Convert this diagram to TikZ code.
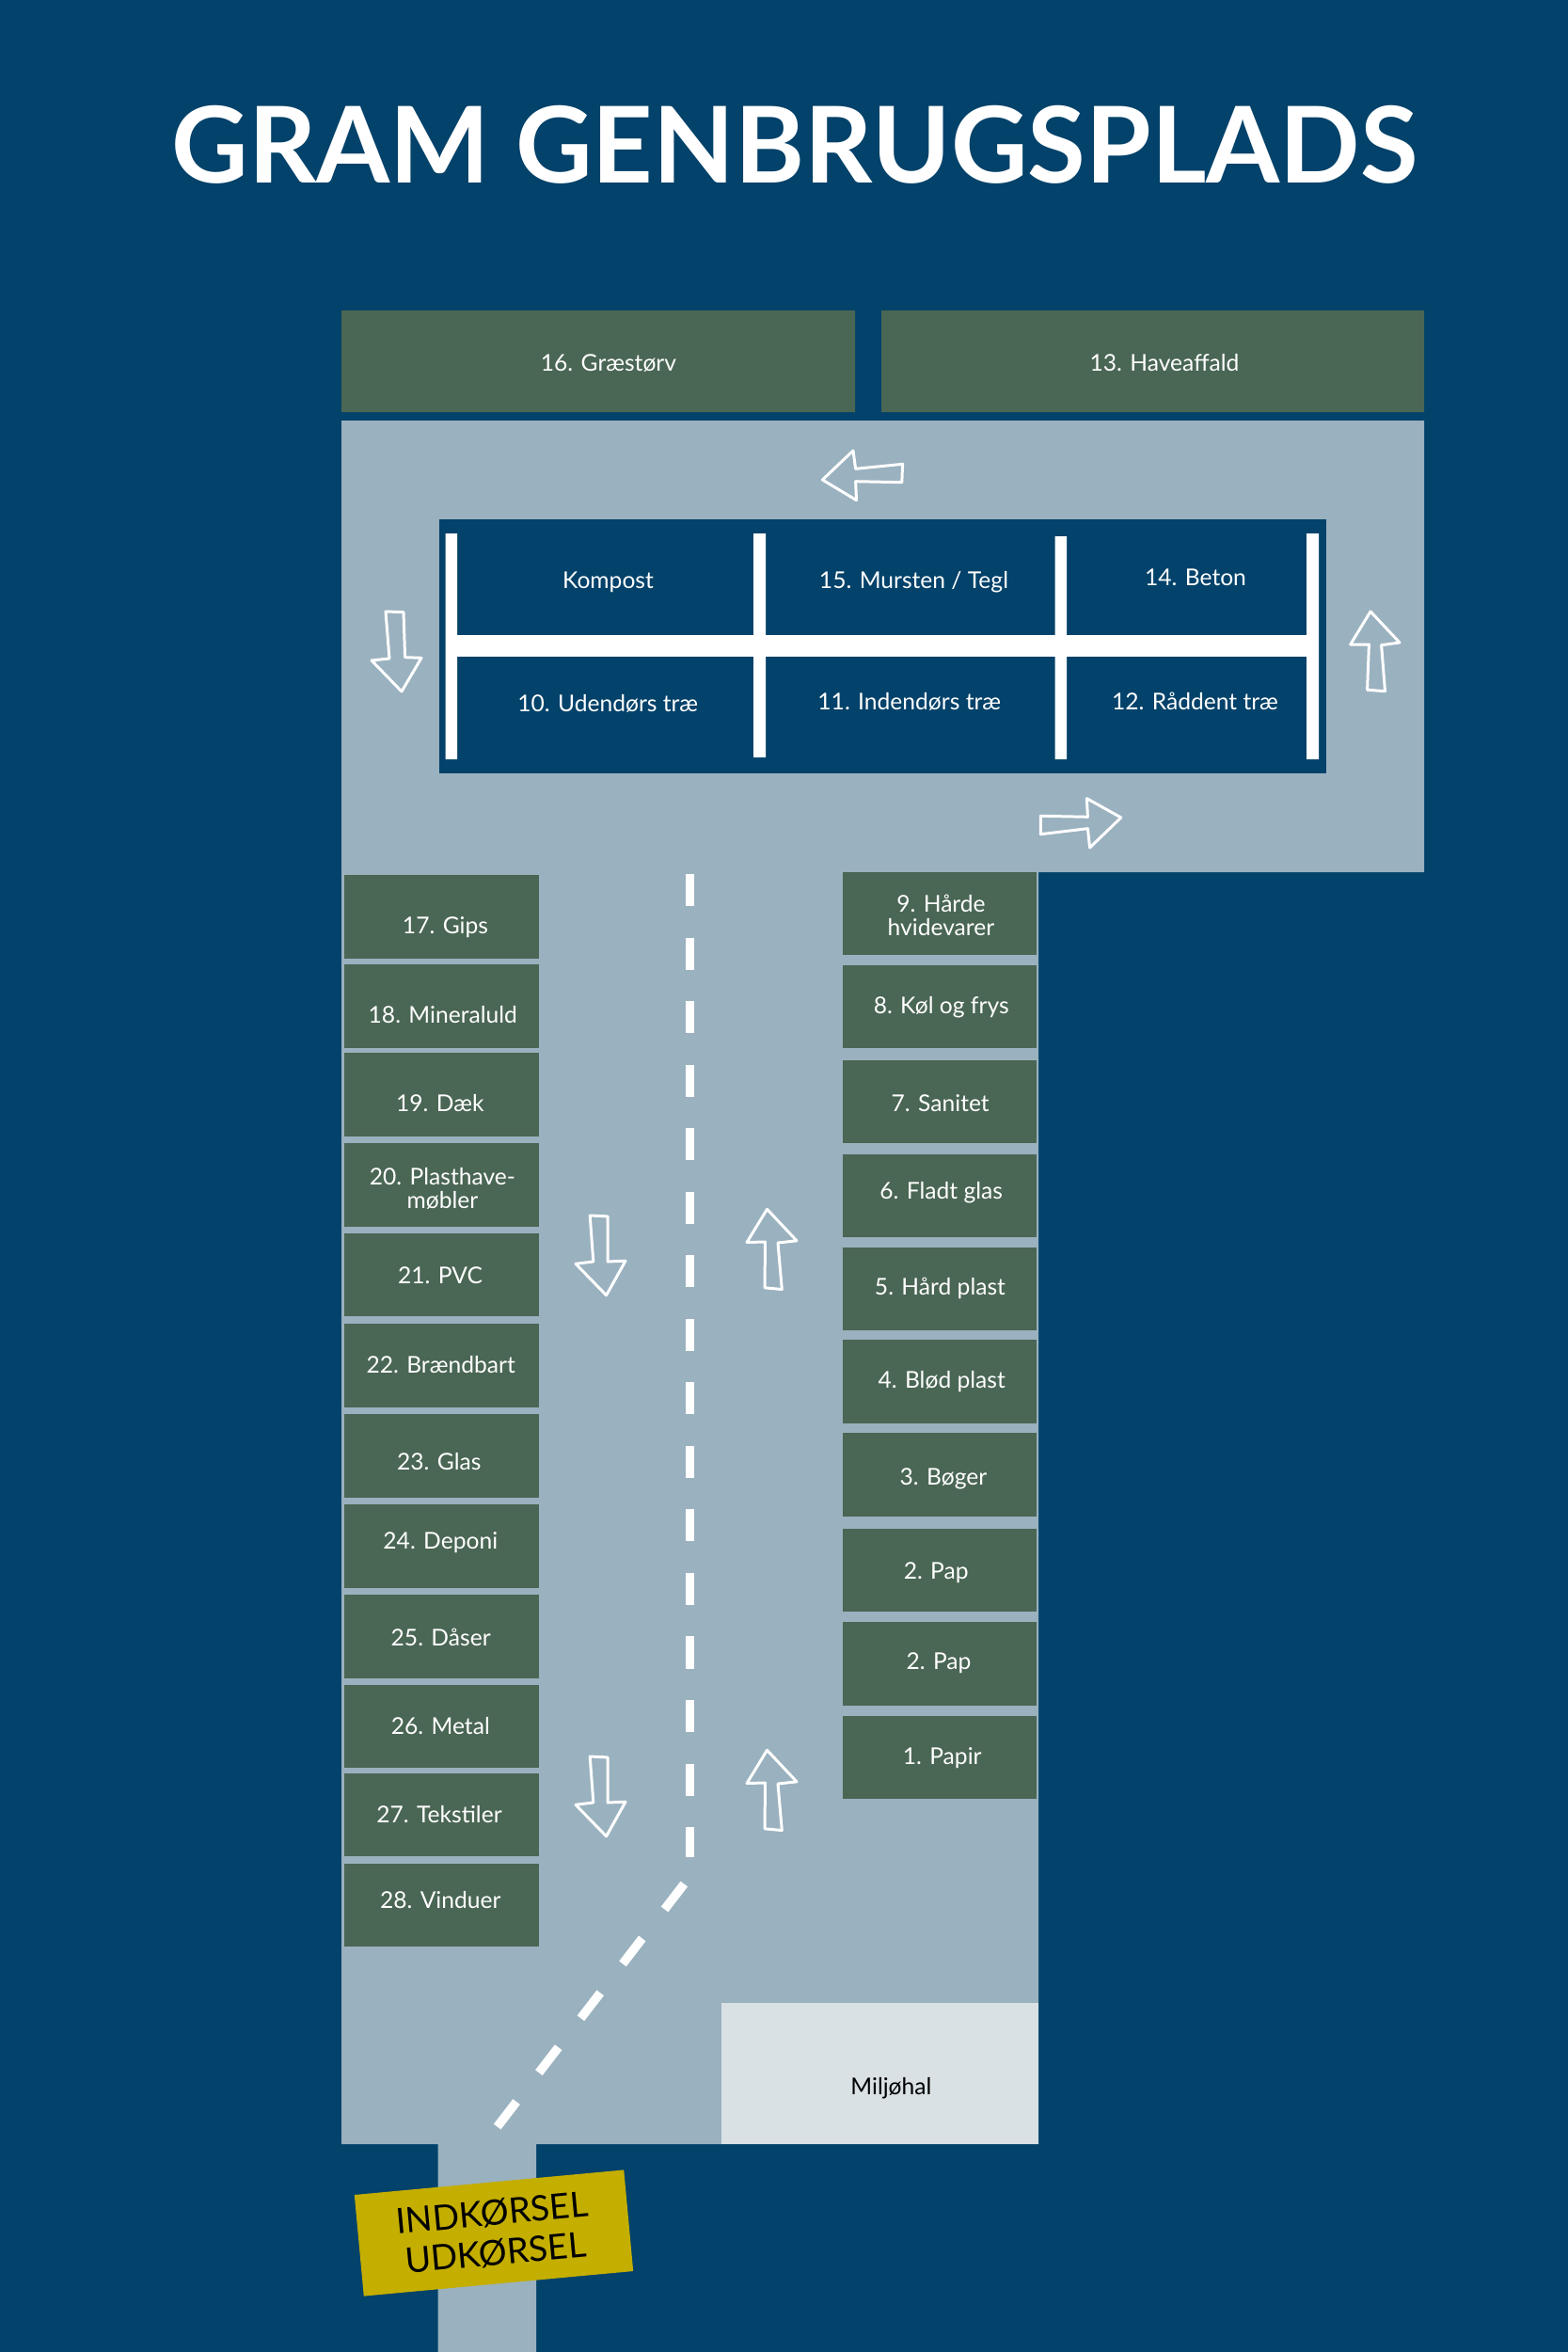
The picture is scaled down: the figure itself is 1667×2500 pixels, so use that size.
\documentclass[tikz,border=0pt]{standalone}
\usepackage{fontspec}
\setmainfont{Lato}
\definecolor{havbla}{HTML}{03426A}
\definecolor{vejgra}{HTML}{9AB1BF}
\definecolor{mosgron}{HTML}{4A6654}
\definecolor{hallys}{HTML}{D9E1E5}
\definecolor{skiltgul}{HTML}{C4AE00}
\tikzset{
	tekst/.style={anchor=base, inner sep=0pt, text=white, font=\fontsize{7}{7.1}\selectfont, align=center},
	pil/.style={draw=white, line width=0.85pt, line join=round},
	stribe/.style={draw=white, line width=2.7pt}
}
\begin{document}
\begin{tikzpicture}[x=0.01cm, y=-0.01cm]
	\fill[havbla] (0,0) rectangle (1667,2500);
	\useasboundingbox (0,0) rectangle (1667,2500);
	\node[tekst, font=\bfseries\fontsize{32}{32}\selectfont] (titel) at (845,194.5) {GRAM GENBRUGSPLADS};
	% vej
	\fill[vejgra] (363,447)--(1514,447)--(1514,927)--(1104,927)--(1104,2279)--(570,2279)--(570,2500)--(465.5,2500)--(465.5,2279)--(363,2279)--cycle;
	% midterste blok
	\fill[havbla] (467,552) rectangle (1410,822);
	\fill[white] (473.5,567) rectangle (486,807) (801,567) rectangle (814,805) (1121.5,570) rectangle (1134,807) (1389,567) rectangle (1402,807);
	\fill[white] (486,675) rectangle (1389,698);
	\node[tekst] (kompost) at (646.5,625) {Kompost};
	\node[tekst] (g15) at (971.5,625) {15. Mursten / Tegl};
	\node[tekst] (g14) at (1271,622) {14. Beton};
	\node[tekst] (g10) at (646.3,756) {10. Udendørs træ};
	\node[tekst] (g11) at (966.8,754) {11. Indendørs træ};
	\node[tekst] (g12) at (1270.5,754.5) {12. Råddent træ};
	% oeverst
	\fill[mosgron] (363,330) rectangle (909,438) (937,330) rectangle (1514,438);
	\node[tekst] (g16) at (647,394.5) {16. Græstørv};
	\node[tekst] (g13) at (1238,394.5) {13. Haveaffald};
	% venstre raekke
	\foreach \nr/\ya/\yb/\tx/\ty/\navn in {17/930/1018.7/473.5/992.3/17. Gips, 18/1025.3/1114/470.8/1087.7/18. Mineraluld, 19/1119.3/1208/467.8/1181.7/19. Dæk, 20/1215.3/1304/470.5/1284/{20. Plasthave-\\møbler}, 21/1310.7/1399/468/1364.3/21. PVC, 22/1407.3/1496/468.7/1459.3/22. Brændbart, 23/1503.3/1592.3/466.8/1562/23. Glas, 24/1599.3/1688/468.3/1646.7/24. Deponi, 25/1695.3/1784/468.7/1749/25. Dåser, 26/1790.7/1879/468.3/1843.7/26. Metal, 27/1884.7/1973/467/1937.5/27. Tekstiler, 28/1980.8/2069.2/468.3/2028.6/28. Vinduer}{
		\fill[mosgron] (366,\ya) rectangle (573,\yb);
		\node[tekst] (g\nr) at (\tx,\ty) {\navn};
	}
	% hoejre raekke
	\foreach \nr/\ya/\yb/\tx/\ty/\navn in {9/927/1015/1000.5/994/{9. Hårde\\hvidevarer}, 8/1026/1114/1000.7/1077.3/8. Køl og frys, 7/1127/1215/999.7/1181.7/7. Sanitet, 6/1227/1315/1000.7/1274.7/6. Fladt glas, 5/1326/1414/999.5/1376.3/5. Hård plast, 4/1424.3/1512.7/1001.2/1475.7/4. Blød plast, 3/1523.3/1612/1003/1578/3. Bøger, 2a/1624.7/1713/995.2/1678/2. Pap, 2b/1724.3/1812.7/998/1774.7/2. Pap, 1/1823.7/1911.6/1001.7/1875/1. Papir}{
		\fill[mosgron] (896,\ya) rectangle (1102,\yb);
		\node[tekst] (g\nr) at (\tx,\ty) {\navn};
	}
	% miljoehal
	\fill[hallys] (766.5,2129) rectangle (1104,2279);
	\node[tekst, text=black] (hal) at (947.4,2226.3) {Miljøhal};
	% midterstriber
	\draw[stribe, dash pattern=on 0.34cm off 0.335cm] (733.4,929)--(733.4,1974);
	\draw[stribe, dash pattern=on 0.34cm off 0.39cm] (727.3,2002.5)--(528.7,2260.5);
	% pile
	\draw[pil] (874.4,510)--(907,479)--(909.6,498.3)--(959.6,493.3)--(958.8,512.7)--(909.6,511.7)--(910.5,531.7)--cycle;
	\draw[pil] (410,650)--(429,650.7)--(430.6,698.7)--(448,699.3)--(427,735)--(395,702)--(414,700)--cycle;
	\draw[pil] (1457,650)--(1488,683)--(1468.6,685.7)--(1472.5,734.7)--(1453.6,733.3)--(1455.4,685)--(1435.7,685)--cycle;
	\draw[pil] (1106.4,867.3)--(1156.4,868.3)--(1155.4,848.7)--(1191.8,869)--(1158.6,901)--(1156.4,880.7)--(1106.4,886.7)--cycle;
	\foreach \dy in {0,-575}{
		\draw[pil, yshift=-\dy*0.01cm] (627.2,1867)--(646,1867.9)--(646,1916)--(665,1915.2)--(644.6,1951.8)--(612,1918.3)--(630.8,1916)--cycle;
		\draw[pil, yshift=-\dy*0.01cm] (815.5,1860.3)--(847,1893.8)--(827,1896)--(831.3,1945.5)--(813,1943.8)--(813.5,1895)--(794,1895.5)--cycle;
	}
	% skilt
	\node[fill=skiltgul, rotate=5.3, minimum width=2.875cm, minimum height=1.08cm, inner sep=0pt, align=center, font=\fontsize{10.6}{12}\selectfont] (skilt) at (525,2373.5) {INDKØRSEL\\UDKØRSEL};
\end{tikzpicture}
\end{document}
